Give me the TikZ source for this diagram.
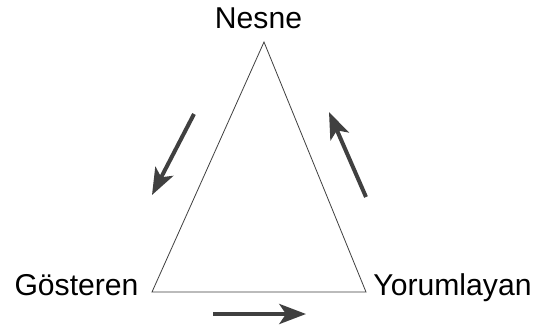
\documentclass[tikz,border=0pt]{standalone}
\usepackage{fontspec}
\setmainfont{Liberation Sans}
\usetikzlibrary{arrows.meta}
\begin{document}
\begin{tikzpicture}[x=0.75pt,y=-0.75pt,
  lbl/.style={inner sep=0pt,anchor=base,font=\fontsize{22.6}{26}\selectfont},
  edge/.style={draw=black!75,line width=0.6pt},
  flow/.style={draw=black!75,line width=3pt,-{Stealth[length=20pt,width=15pt,inset=5pt]}}]
\useasboundingbox (0,0) rectangle (543,329);
\fill[white] (0,0) rectangle (543,329);
\coordinate (A) at (264,42);
\coordinate (L) at (152,292);
\coordinate (R) at (366,292);
\draw[edge] (A) -- (L) -- (R) -- cycle;
\node[lbl] (nesne) at (258.5,28) {Nesne};
\node[lbl] (gost) at (76.5,295) {Gösteren};
\node[lbl] (yor) at (452.5,295) {Yorumlayan};
\coordinate (a1s) at (194,114);
\coordinate (a1e) at (152,195);
\coordinate (a2s) at (366,197);
\coordinate (a2e) at (329,112);
\coordinate (a3s) at (213,314);
\coordinate (a3e) at (306,314);
\draw[flow] (a1s) -- (a1e);
\draw[flow] (a2s) -- (a2e);
\draw[flow] (a3s) -- (a3e);
\end{tikzpicture}
\end{document}
